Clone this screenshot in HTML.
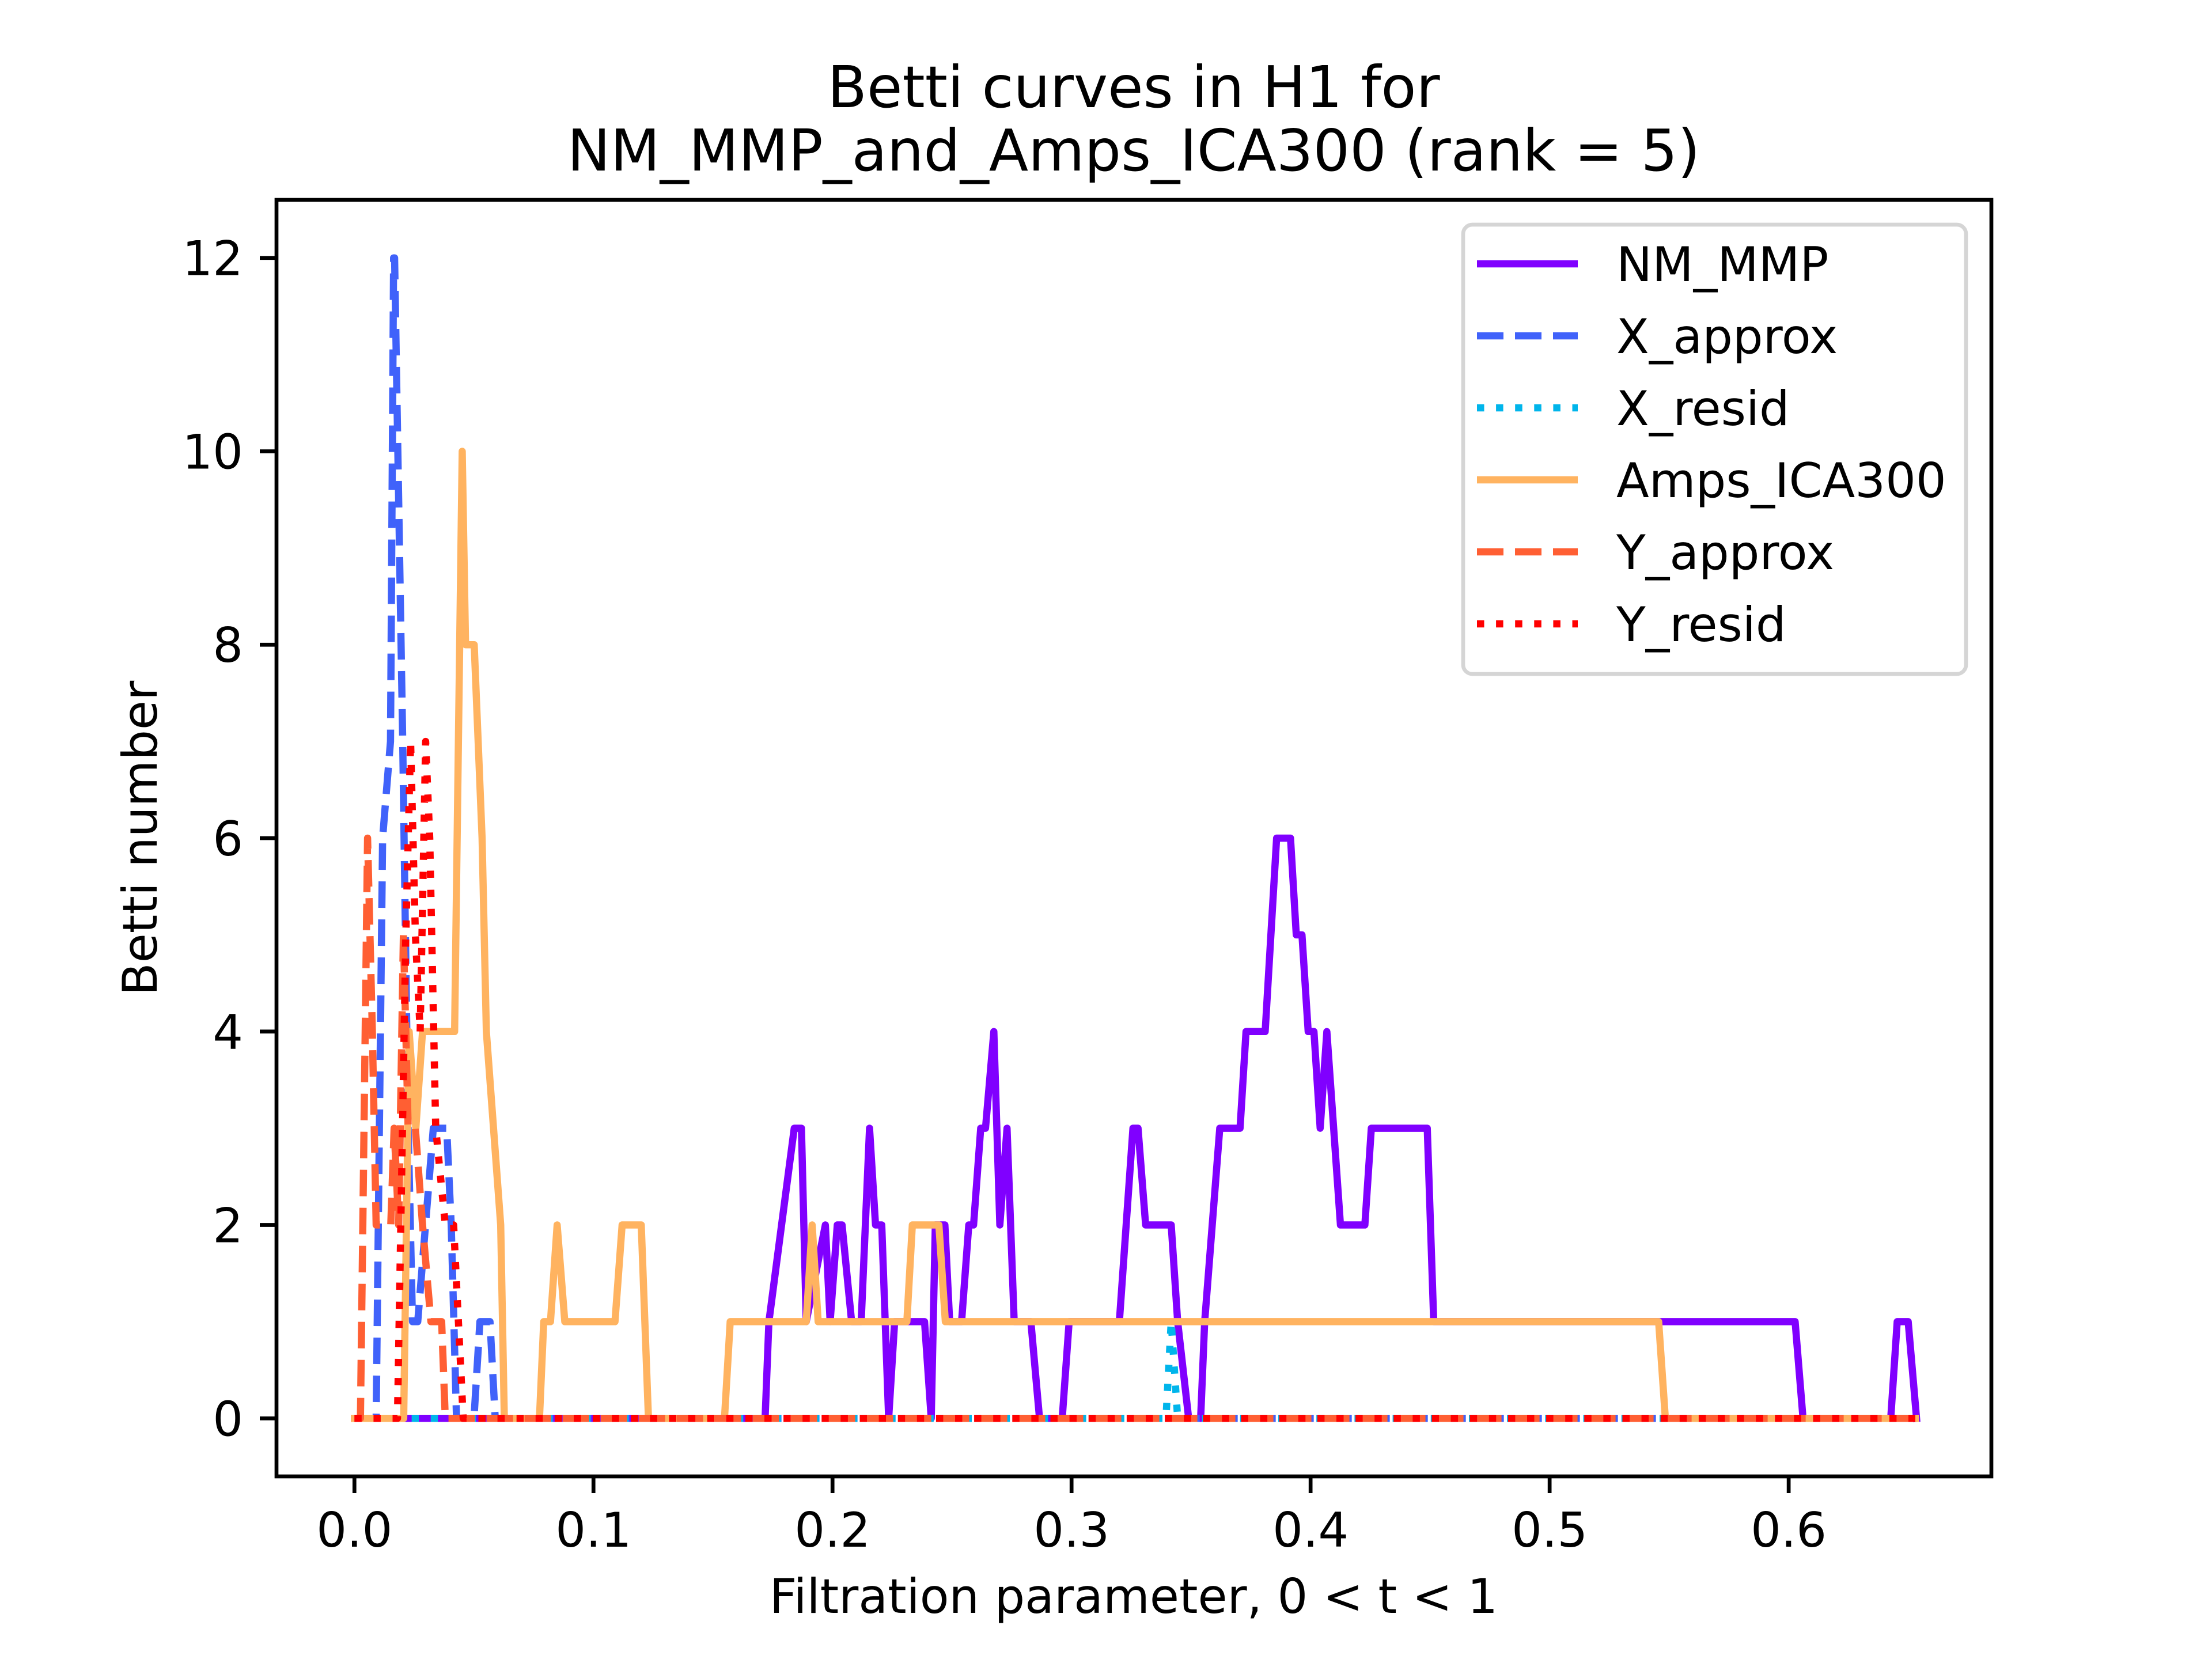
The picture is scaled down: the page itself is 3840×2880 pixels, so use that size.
<!DOCTYPE html>
<html><head><meta charset="utf-8"><style>
html,body{margin:0;padding:0;background:#fff}
svg{display:block}
text{font-family:"DejaVu Sans","Liberation Sans",sans-serif;fill:#000}
</style></head><body>
<svg id="chart" xmlns="http://www.w3.org/2000/svg" width="3840" height="2880" viewBox="0 0 3840 2880">
<rect width="3840" height="2880" fill="#fff"/>
<g id="plot"></g>
<g id="axes"></g>
<text x="1968" y="186" font-size="100" text-anchor="middle">Betti curves in H1 for</text>
<text x="1968" y="296" font-size="100" text-anchor="middle">NM_MMP_and_Amps_ICA300 (rank = 5)</text>
<text x="1968" y="2800" font-size="83" text-anchor="middle">Filtration parameter, 0 &lt; t &lt; 1</text>
<text x="0" y="0" font-size="83" text-anchor="middle" transform="translate(272,1455) rotate(-90)">Betti number</text>
<g id="legend"></g>
</svg>
<script>
const seriesNames = ["NM_MMP","X_approx","X_resid","Amps_ICA300","Y_approx","Y_resid"];
const seriesColors = ["#8000ff","#4062fa","#00b5eb","#ffb360","#ff5f33","#ff0000"];
const seriesDash = ["", "46 20", "12.5 20.6", "", "46 20", "12.5 20.6"];
const xTicks = [0.0,0.1,0.2,0.3,0.4,0.5,0.6];
const xTickLabels = ["0.0","0.1","0.2","0.3","0.4","0.5","0.6"];
const yTicks = [0,2,4,6,8,10,12];
const yTickLabels = ["0","2","4","6","8","10","12"];
const nmMmpX = [0,0.1718,0.1734,0.184,0.187,0.189,0.197,0.199,0.202,0.204,0.208,0.212,0.2155,0.218,0.2206,0.2235,0.226,0.2385,0.2413,0.243,0.247,0.249,0.254,0.257,0.259,0.262,0.264,0.2675,0.270,0.273,0.276,0.283,0.2866,0.2961,0.299,0.320,0.3257,0.3278,0.331,0.3417,0.3444,0.349,0.354,0.3557,0.362,0.3705,0.373,0.381,0.3858,0.3916,0.394,0.3964,0.399,0.4014,0.404,0.4068,0.4125,0.4227,0.4254,0.4488,0.4515,0.6027,0.606,0.6427,0.6454,0.650,0.6535];
const nmMmpY = [0,0,1,3,3,1,2,1,2,2,1,1,3,2,2,0,1,1,0,2,2,1,1,2,2,3,3,4,2,3,1,1,0,0,1,1,3,3,2,2,1,0,0,1,3,3,4,4,6,6,5,5,4,4,3,4,2,2,3,3,1,1,0,0,1,1,0];
const xApproxX = [0,0.0091,0.0118,0.0151,0.0164,0.0168,0.0202,0.0225,0.0243,0.0265,0.033,0.0386,0.0405,0.0427,0.05,0.0525,0.0567,0.0589,0.653];
const xApproxY = [0,0,6,7,12,12,7,3,1,1,3,3,2,0,0,1,1,0,0];
const xResidX = [0,0.3395,0.3417,0.3444,0.653];
const xResidY = [0,0,1,0,0];
const ampsX = [0,0.0206,0.0229,0.0257,0.0285,0.0419,0.0451,0.0465,0.0501,0.0534,0.0552,0.0612,0.0627,0.0774,0.0792,0.082,0.0848,0.088,0.109,0.112,0.120,0.123,0.1548,0.1572,0.189,0.1915,0.194,0.2311,0.2334,0.2445,0.2472,0.5456,0.5484,0.653];
const ampsY = [0,0,4,3,4,4,10,8,8,6,4,2,0,0,1,1,2,1,1,2,2,0,0,1,1,2,1,1,2,2,1,1,0,0];
const yApproxX = [0,0.0025,0.0055,0.0075,0.0091,0.0152,0.0166,0.0185,0.0205,0.0225,0.0255,0.0285,0.032,0.0365,0.038,0.653];
const yApproxY = [0,0,6,4,2,2,3,2,5,3,3,2,1,1,0,0];
const yResidX = [0,0.018,0.0215,0.0235,0.0255,0.0275,0.0298,0.0315,0.034,0.038,0.0415,0.0435,0.0455,0.653];
const yResidY = [0,0,5,7,5,4,7,6,3,2,2,1,0,0];

const L=480,R=3457,T=347,B=2563;
const xMin=-0.0326,xMax=0.6848,yMin=-0.6,yMax=12.6;
function sx(v){return L+(v-xMin)/(xMax-xMin)*(R-L);}
function sy(v){return B-(v-yMin)/(yMax-yMin)*(B-T);}
const NS="http://www.w3.org/2000/svg";
function mk(tag,attrs,parent){const e=document.createElementNS(NS,tag);for(const k in attrs)e.setAttribute(k,attrs[k]);parent.appendChild(e);return e;}

const plot=document.getElementById('plot');
const xs=[nmMmpX,xApproxX,xResidX,ampsX,yApproxX,yResidX];
const ys=[nmMmpY,xApproxY,xResidY,ampsY,yApproxY,yResidY];
for(let i=0;i<6;i++){
  const pts=xs[i].map((x,j)=>sx(x).toFixed(1)+","+sy(ys[i][j]).toFixed(1)).join(" ");
  const p=mk('polyline',{points:pts,fill:"none",stroke:seriesColors[i],"stroke-width":"12.5","stroke-linejoin":"round","stroke-linecap":seriesDash[i]?"butt":"square"},plot);
  if(seriesDash[i])p.setAttribute('stroke-dasharray',seriesDash[i]);
  
  
}

const axes=document.getElementById('axes');
const frame=mk('rect',{x:L,y:T,width:R-L,height:B-T,fill:"none",stroke:"#000","stroke-width":"6.7"},axes);


xTicks.forEach((v,i)=>{
  const x=sx(v);
  const t=mk('line',{x1:x,y1:B,x2:x,y2:B+29,stroke:"#000","stroke-width":"6.7"},axes);
  
  
  const lb=mk('text',{x:x,y:B+122,"font-size":"83","text-anchor":"middle"},axes);
  lb.textContent=xTickLabels[i];
  
  
});
yTicks.forEach((v,i)=>{
  const y=sy(v);
  const t=mk('line',{x1:L-29,y1:y,x2:L,y2:y,stroke:"#000","stroke-width":"6.7"},axes);
  
  
  const lb=mk('text',{x:L-58,y:y+30,"font-size":"83","text-anchor":"end"},axes);
  lb.textContent=yTickLabels[i];
  
  
});

const lg=document.getElementById('legend');
const box=mk('rect',{x:2540,y:390,width:873,height:780,rx:16,fill:"#fff","fill-opacity":"0.8",stroke:"#d5d5d5","stroke-width":"6.7"},lg);


const rowY=[458,583,708,833,958,1083];
for(let i=0;i<6;i++){
  const ln=mk('line',{x1:2564,y1:rowY[i],x2:2739,y2:rowY[i],stroke:seriesColors[i],"stroke-width":"12.5"},lg);
  if(seriesDash[i])ln.setAttribute('stroke-dasharray',seriesDash[i]);
  
  
  const tx=mk('text',{x:2806,y:rowY[i]+30,"font-size":"83"},lg);
  tx.textContent=seriesNames[i];
  
  
}
</script>
</body></html>
